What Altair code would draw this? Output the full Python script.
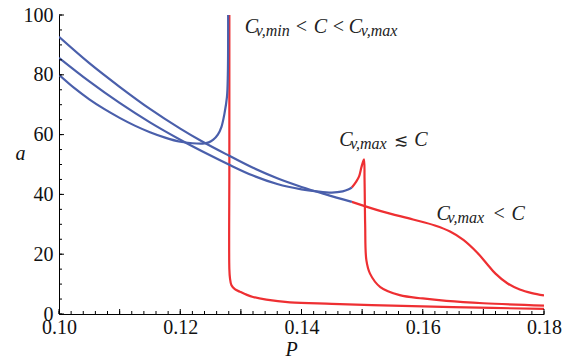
import altair as alt
import pandas as pd

# ---------------- data ----------------
A_BLUE_P = [0.100, 0.1025, 0.105, 0.1075, 0.110, 0.1125, 0.115, 0.1175, 0.120, 0.122, 0.1237,
            0.1247, 0.1254, 0.1262, 0.1268, 0.1273, 0.1277, 0.12785, 0.1279]
A_BLUE_A = [80.0, 75.6, 71.8, 68.5, 65.6, 63.0, 60.8, 59.0, 57.6, 57.1, 57.0,
            57.4, 58.2, 60.0, 62.6, 67.1, 72.5, 80.0, 100.0]
A_RED_P = [0.1281, 0.1281, 0.1281, 0.1282, 0.12845, 0.1290, 0.1299, 0.1310, 0.1320, 0.1342,
           0.1381, 0.145, 0.155, 0.165, 0.180]
A_RED_A = [100.0, 50.0, 15.0, 12.0, 9.6, 8.3, 7.4, 6.4, 5.7, 4.8,
           3.9, 3.4, 2.8, 2.3, 1.7]

B_BLUE_P = [0.100, 0.105, 0.110, 0.115, 0.120, 0.125, 0.128, 0.132, 0.136, 0.140, 0.1425,
            0.145, 0.1468, 0.1477, 0.1483]
B_BLUE_A = [85.7, 77.8, 70.6, 64.1, 58.3, 53.0, 50.0, 46.3, 43.5, 41.7, 41.0,
            40.6, 41.0, 41.6, 42.3]
B_RED_P = [0.1483, 0.1490, 0.1495, 0.1499, 0.1503, 0.1504, 0.1505, 0.1507, 0.1513, 0.1530,
           0.1562, 0.1600, 0.1639, 0.1700, 0.1800]
B_RED_A = [42.3, 44.2, 46.0, 49.2, 51.7, 45.0, 30.0, 18.0, 13.5, 9.0,
           6.3, 5.2, 4.4, 3.6, 2.8]

C_BLUE_P = [0.100, 0.105, 0.110, 0.115, 0.120, 0.1237, 0.128, 0.132, 0.136, 0.140, 0.144, 0.1483]
C_BLUE_A = [92.7, 83.9, 76.0, 68.6, 62.0, 57.6, 53.0, 48.9, 45.4, 42.5, 40.0, 37.5]
C_RED_P = [0.1483, 0.1531, 0.1584, 0.1620, 0.1645, 0.1667, 0.1690, 0.1705, 0.1720, 0.1740,
           0.1760, 0.1780, 0.1800]
C_RED_A = [37.5, 34.4, 31.6, 29.6, 27.6, 24.8, 20.5, 17.0, 13.5, 10.2,
           8.2, 7.0, 6.2]

X_LABEL_TICKS = [0.10, 0.12, 0.14, 0.16, 0.18]
X_MID_TICKS = [0.10, 0.11, 0.12, 0.13, 0.14, 0.15, 0.16, 0.17, 0.18]
X_MINOR_TICKS = [round(0.100 + 0.002 * i, 3) for i in range(41)]
Y_LABEL_TICKS = [0, 20, 40, 60, 80, 100]
Y_MINOR_TICKS = [5 * i for i in range(21)]

LABEL_TEXTS = [
    ["C", "v,min", "<", "C", "<", "C", "v,max"],
    ["C", "v,max", "≲", "C"],
    ["C", "v,max", "<", "C"],
]
LABEL_P = [0.13064, 0.14621, 0.16228]
LABEL_A = [94.0, 56.1, 31.5]

# ---------------- styles ----------------
BLUE = "#4a5fab"
RED = "#ee2f32"
SERIF = "Liberation Serif"
SYMBOL_FONT = "DejaVu Serif"
W, H = 485, 299
# per-fragment pixel offsets and kinds for the annotation labels
FRAG_DX = [[0, 11, 51, 69, 88, 104, 116], [0, 11, 55, 75], [0, 11, 57, 75]]
FRAG_KIND = [["m", "s", "o", "m", "o", "m", "s"], ["m", "s", "q", "m"], ["m", "s", "o", "m"]]

rows = []
for seg, ps, vs, col in [("A_red", A_RED_P, A_RED_A, RED), ("B_red", B_RED_P, B_RED_A, RED),
                         ("C_red", C_RED_P, C_RED_A, RED),
                         ("A_blue", A_BLUE_P, A_BLUE_A, BLUE), ("B_blue", B_BLUE_P, B_BLUE_A, BLUE),
                         ("C_blue", C_BLUE_P, C_BLUE_A, BLUE)]:
    for i, (p, v) in enumerate(zip(ps, vs)):
        rows.append({"seg": seg, "i": i, "P": p, "a": v, "col": col})
df = pd.DataFrame(rows)

xscale = alt.Scale(domain=[0.10, 0.18], nice=False, zero=False)
yscale = alt.Scale(domain=[0, 100], nice=False, zero=False)

xaxis = alt.Axis(values=X_LABEL_TICKS, format=".2f", ticks=False, tickSize=0, grid=False,
                 domainColor="#000", domainWidth=1, labelFont=SERIF, labelFontSize=20,
                 labelColor="#111", labelPadding=3, labelFlush=False, labelOverlap=False,
                 title="P", titleFont=SERIF, titleFontStyle="italic", titleFontWeight="normal",
                 titleFontSize=20, titleColor="#111", titleX=232, titleY=41,
                 titleBaseline="alphabetic", titleAlign="center")
yaxis = alt.Axis(values=Y_LABEL_TICKS, ticks=False, tickSize=0, grid=False,
                 domainColor="#000", domainWidth=1, labelFont=SERIF, labelFontSize=20,
                 labelColor="#111", labelPadding=6, labelFlush=False, labelOverlap=False,
                 title="a", titleFont=SERIF, titleFontStyle="italic", titleFontWeight="normal",
                 titleFontSize=20, titleColor="#111", titleAngle=0, titleX=-39, titleY=144,
                 titleBaseline="alphabetic", titleAlign="center")

X_ENC = alt.X("P:Q", scale=xscale, title="P")
Y_ENC = alt.Y("a:Q", scale=yscale, title="a")


def lines(color_name, with_axes):
    x = alt.X("P:Q", scale=xscale, axis=xaxis) if with_axes else X_ENC
    y = alt.Y("a:Q", scale=yscale, axis=yaxis) if with_axes else Y_ENC
    return alt.Chart(df[df["seg"].str.endswith(color_name)]).mark_line(
        interpolate="catmull-rom", strokeWidth=2.2, clip=True
    ).encode(
        x=x, y=y,
        color=alt.Color("col:N", scale=None),
        detail="seg:N",
        order="i:Q",
    )


layers = [lines("red", True), lines("blue", False)]


# inward tick marks
def xticks(vals, length):
    return alt.Chart(pd.DataFrame({"P": vals})).mark_rule(color="#000", strokeWidth=1).encode(
        x=X_ENC, y=alt.value(H), y2=alt.value(H - length))


def yticks(vals, length):
    return alt.Chart(pd.DataFrame({"a": vals})).mark_rule(color="#000", strokeWidth=1).encode(
        y=Y_ENC, x=alt.value(0), x2=alt.value(length))


layers += [xticks(X_MINOR_TICKS, 3), xticks(X_MID_TICKS, 5),
           yticks(Y_MINOR_TICKS, 3), yticks(Y_LABEL_TICKS, 5)]

# annotation labels built from fragments (main text + subscripts)
for li, texts in enumerate(LABEL_TEXTS):
    for fi, t in enumerate(texts):
        kind = FRAG_KIND[li][fi]
        size = {"s": 16, "q": 17}.get(kind, 20)
        dy = 3 if kind == "s" else 0
        style = "normal" if kind in ("o", "q") else "italic"
        font = SYMBOL_FONT if kind == "q" else SERIF
        layers.append(
            alt.Chart(pd.DataFrame({"P": [LABEL_P[li]], "a": [LABEL_A[li]], "t": [t]}))
            .mark_text(align="left", baseline="alphabetic", font=font, fontSize=size,
                       fontStyle=style, dx=FRAG_DX[li][fi], dy=dy, color="#222")
            .encode(x=X_ENC, y=Y_ENC, text="t:N")
        )

chart = alt.layer(*layers).properties(
    width=W, height=H,
    padding={"left": 51, "top": 7, "right": 18, "bottom": 45},
    autosize=alt.AutoSizeParams(type="none"),
    background="white",
).configure_view(stroke=None)

chart.save("out.html", embed_options={"renderer": "svg", "actions": False})
